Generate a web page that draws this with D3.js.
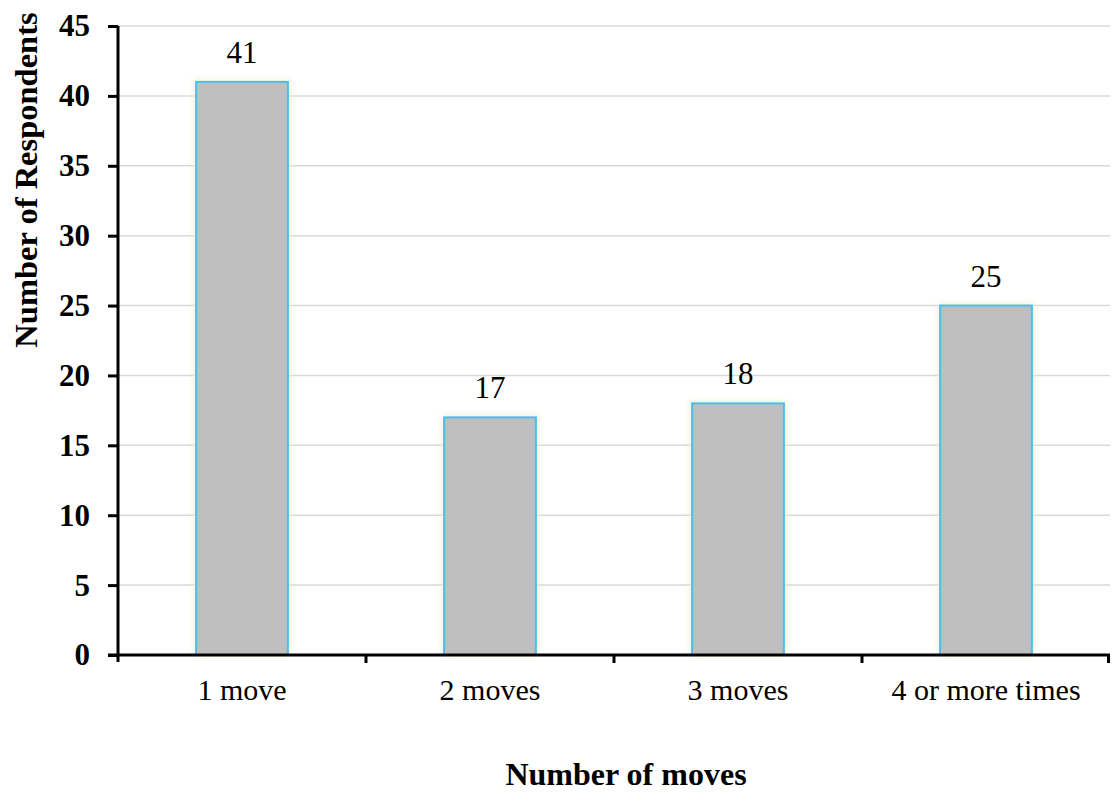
<!DOCTYPE html>
<html>
<head>
<meta charset="utf-8">
<script src="https://cdn.jsdelivr.net/npm/d3@7"></script>
<style>
  html, body { margin: 0; padding: 0; background: #fff; }
  svg { display: block; font-family: "Liberation Serif", "Times New Roman", serif; }
</style>
</head>
<body>
<svg id="chart" width="1112" height="793"></svg>
<script>
// Survey results: how many times respondents have moved
const categories = ["1 move", "2 moves", "3 moves", "4 or more times"];
const respondents = [41, 17, 18, 25];
const yTicks = [0, 5, 10, 15, 20, 25, 30, 35, 40, 45];

const svg = d3.select("#chart");
const margin = { left: 118, right: 2, top: 26, bottom: 138 };
const width = 1112, height = 793;
const plotBottom = height - margin.bottom; // 655

const x = d3.scaleBand()
  .domain(categories)
  .range([margin.left, width - margin.right])
  .paddingInner(0.63)
  .paddingOuter(0.315);

const xEdges = d3.scaleBand()
  .domain(categories)
  .range([margin.left, width - margin.right]);

const y = d3.scaleLinear().domain([0, 45]).range([plotBottom, margin.top]);

// soft glow behind bars
const defs = svg.append("defs");
const glow = defs.append("filter").attr("id", "glow")
  .attr("x", "-20%").attr("y", "-20%").attr("width", "140%").attr("height", "140%");
glow.append("feGaussianBlur").attr("stdDeviation", 3);

// gridlines
svg.append("g")
  .selectAll("line")
  .data(yTicks.filter(d => d > 0))
  .join("line")
  .attr("x1", margin.left)
  .attr("x2", width - margin.right)
  .attr("y1", d => y(d))
  .attr("y2", d => y(d))
  .attr("stroke", "#d9d9d9")
  .attr("stroke-width", 1.5);

// bar glow
svg.append("g")
  .selectAll("rect")
  .data(respondents)
  .join("rect")
  .attr("x", (d, i) => x(categories[i]) - 2)
  .attr("y", d => y(d) - 2)
  .attr("width", x.bandwidth() + 4)
  .attr("height", d => plotBottom - y(d) + 2)
  .attr("fill", "#e8f3d6")
  .attr("filter", "url(#glow)");

// bars
svg.append("g")
  .selectAll("rect")
  .data(respondents)
  .join("rect")
  .attr("x", (d, i) => x(categories[i]))
  .attr("y", d => y(d))
  .attr("width", x.bandwidth())
  .attr("height", d => plotBottom - y(d))
  .attr("fill", "#bfbfbf")
  .attr("stroke", "#4dbde9")
  .attr("stroke-width", 2);

// value labels
svg.append("g")
  .selectAll("text")
  .data(respondents)
  .join("text")
  .attr("x", (d, i) => x(categories[i]) + x.bandwidth() / 2)
  .attr("y", d => y(d) - 19)
  .attr("text-anchor", "middle")
  .attr("font-size", 31)
  .attr("fill", "#000")
  .text(d => d);

// y axis
const yAxis = svg.append("g")
  .attr("transform", `translate(${margin.left},0)`)
  .call(d3.axisLeft(y).tickValues(yTicks).tickSize(10).tickPadding(18).tickSizeOuter(0));
yAxis.select(".domain").attr("stroke", "#000").attr("stroke-width", 3)
  .attr("d", `M0,${y(45)}V${plotBottom + 7}`);
yAxis.selectAll(".tick line").attr("stroke", "#000").attr("stroke-width", 3);
yAxis.selectAll(".tick text")
  .attr("font-family", "Liberation Serif, serif")
  .attr("font-size", 31)
  .attr("font-weight", "bold")
  .attr("fill", "#000");

// x axis
const xAxis = svg.append("g")
  .attr("transform", `translate(0,${plotBottom})`)
  .call(d3.axisBottom(xEdges).tickSize(0).tickPadding(24).tickSizeOuter(0));
xAxis.select(".domain").attr("stroke", "#000").attr("stroke-width", 3)
  .attr("d", `M${margin.left - 10},0H${width - margin.right}`);
xAxis.selectAll(".tick text")
  .attr("font-family", "Liberation Serif, serif")
  .attr("font-size", 30)
  .attr("fill", "#000");

// category separators on x axis
svg.append("g")
  .selectAll("line")
  .data(categories.slice(1).concat(["end"]))
  .join("line")
  .attr("x1", (d, i) => i < categories.length - 1 ? xEdges(d) : width - margin.right - 1.5)
  .attr("x2", (d, i) => i < categories.length - 1 ? xEdges(d) : width - margin.right - 1.5)
  .attr("y1", plotBottom)
  .attr("y2", plotBottom + 8)
  .attr("stroke", "#000")
  .attr("stroke-width", 3);

// axis titles
svg.append("text")
  .attr("transform", `translate(37,180) rotate(-90)`)
  .attr("text-anchor", "middle")
  .attr("font-size", 32.5)
  .attr("font-weight", "bold")
  .attr("fill", "#000")
  .text("Number of Respondents");

svg.append("text")
  .attr("x", 626)
  .attr("y", 785)
  .attr("text-anchor", "middle")
  .attr("font-size", 32)
  .attr("font-weight", "bold")
  .attr("fill", "#000")
  .text("Number of moves");
</script>
</body>
</html>
